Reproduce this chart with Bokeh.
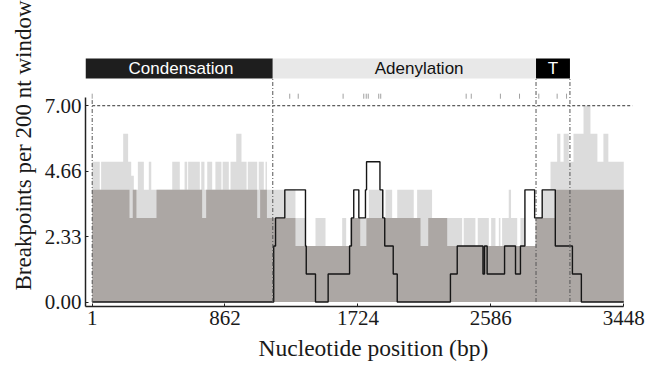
import math
from bokeh.plotting import figure
from bokeh.models import FixedTicker, Title, Range1d
from bokeh.core.properties import value
from bokeh.embed import file_html
from bokeh.resources import INLINE

# ---------------- data ----------------
SEQ_START = 1
SEQ_END = 3448
MAX_BP = 7

x_ticks = [1, 862, 1724, 2586, 3448]
y_ticks = [0, 7 / 3, 14 / 3, 7]
y_tick_labels = ["0.00", "2.33", "4.66", "7.00"]

# light grey envelope (step starts, breakpoints per window)
light_pos = [1, 50, 59, 202, 234, 254, 271, 297, 336, 368, 384, 520, 569, 600, 617, 623,
             699, 708, 729, 747, 779, 800, 839, 847, 887, 898, 935, 969, 1002, 1010,
             1071, 1081, 1114, 1125, 1134, 1319, 1384, 1449, 1514, 1622,
             1648, 1676, 1697, 1740, 1779, 1795, 1892, 1903, 1946, 1979, 2086, 2108,
             2205, 2400, 2410, 2486, 2501, 2573, 2588, 2616, 2638, 2648, 2659, 2702,
             2717, 2757, 2778, 2806, 2876, 2919, 2973, 3016, 3037, 3058, 3091, 3122,
             3187, 3232, 3277, 3316, 3348]
light_val = [5, 4, 5, 6, 5, 4.5, 4, 5, 4, 5, 4, 5, 4, 5, 4, 5,
             4, 5, 4, 5, 4, 5, 4, 5, 4, 5, 6, 5, 4, 5,
             4, 5, 4, 5, 4, 3, 2, 3, 2, 3,
             2, 3, 2, 3, 3, 4, 3, 4, 3, 4, 3, 4,
             3, 2, 3, 2, 3, 2, 3, 2, 3, 2, 3, 4,
             3, 2, 3, 2, 3, 4, 5, 6, 5, 6, 5, 6,
             7, 6, 5, 6, 5]

# dark grey series
dark_pos = [1, 243, 264, 288, 418, 714, 740, 1071, 1090, 1134, 1319, 1676, 1740, 1779,
            2130, 2180, 2303, 2876, 3001]
dark_val = [4, 3, 4, 3, 4, 3, 4, 3, 4, 3, 2, 3, 2, 3,
            2, 3, 2, 3, 4]

# black outline series
line_pos = [1, 1178, 1190, 1250, 1384, 1389, 1449, 1531, 1670, 1682, 1697, 1730, 1773,
            1780, 1867, 1885, 1898, 1953, 1979, 2324, 2368, 2535, 2545, 2562, 2675,
            2746, 2778, 2807, 2870, 2919, 3004, 3115, 3173]
line_val = [0, 2, 3, 4, 2, 1, 0, 1, 2, 3, 4, 3, 4,
            5, 4, 3, 2, 1, 0, 1, 2, 1, 2, 1, 2,
            1, 2, 4, 3, 4, 2, 1, 0]

# breakpoint positions (rug)
rug_pos = [1, 1282, 1337, 1628, 1762, 1778, 1791, 1859, 1872, 2426, 2459, 2648, 2772,
           2897, 3016, 3077]

# domains
domain_names = ["Condensation", "Adenylation", "T"]
domain_end = [1172, 2879, 3099]
domain_label_pos = [577, 2121, 2989]

# ---------------- figure ----------------
X0, X1 = -42.4, 3504.6
Y0, Y1 = -0.16, 8.72
BAR_LO, BAR_HI = 7.97, 8.68

p = figure(width=658, height=367, output_backend="svg", toolbar_location=None,
           x_range=Range1d(X0, X1), y_range=Range1d(Y0, Y1),
           min_border_left=85, min_border_right=26, min_border_top=57,
           min_border_bottom=61)
p.outline_line_color = None
p.grid.visible = False
p.background_fill_color = "white"

def steps(pos, val):
    return list(pos) + [SEQ_END], list(val) + [val[-1]]

lx, ly = steps(light_pos, light_val)
p.varea_step(x=lx, y1=[0] * len(lx), y2=ly, step_mode="after",
             fill_color="#dcdcdc")
dx, dy = steps(dark_pos, dark_val)
p.varea_step(x=dx, y1=[0] * len(dx), y2=dy, step_mode="after",
             fill_color="#aca7a4")
bx, by = steps(line_pos, line_val)
p.step(x=bx, y=by, mode="after", line_color="#151515", line_width=1.4)

# threshold line at max
p.segment(x0=[SEQ_START], x1=[X1], y0=[MAX_BP], y1=[MAX_BP],
          line_color="#333333", line_width=1, line_dash="3 2")

# domain boundary lines
p.segment(x0=[SEQ_START], x1=[SEQ_START], y0=[0], y1=[7.2],
          line_color="#555555", line_width=1, line_dash="4 2 1 2")
p.segment(x0=domain_end, x1=domain_end, y0=[0] * 3, y1=[BAR_LO] * 3,
          line_color="#555555", line_width=1, line_dash="4 2 1 2")

# rug ticks
p.segment(x0=rug_pos, x1=rug_pos, y0=[7.25] * len(rug_pos), y1=[7.43] * len(rug_pos),
          line_color="#a0a0a0", line_width=1)

# domain bar
starts = [X0] + domain_end[:-1]
p.quad(left=starts, right=domain_end, bottom=[BAR_LO] * 3, top=[BAR_HI] * 3,
       fill_color=["#1e1e1e", "#e8e8e8", "#000000"], line_color=None)
p.text(x=domain_label_pos, y=[(BAR_LO + BAR_HI) / 2] * 3, text=domain_names,
       text_color=["white", "#111111", "white"], text_font=value("Liberation Sans"),
       text_font_size="17px", text_align="center", text_baseline="middle")

# axes
for ax in (p.xaxis[0], p.yaxis[0]):
    ax.axis_line_color = "#222222"
    ax.axis_line_width = 1.5
    ax.major_tick_line_color = "#222222"
    ax.major_tick_in = 3
    ax.major_tick_out = 0
    ax.minor_tick_line_color = None
    ax.major_label_text_font = "Liberation Serif"
    ax.major_label_text_font_size = "21px"
    ax.major_label_text_color = "#1a1a1a"
    ax.major_label_standoff = 4

p.xaxis.ticker = FixedTicker(ticks=x_ticks)
p.xaxis.bounds = (X0, SEQ_END)
p.yaxis.ticker = FixedTicker(ticks=y_ticks)
p.yaxis.major_label_overrides = {t: s for t, s in zip(y_ticks, y_tick_labels)}
p.yaxis.bounds = (Y0, 7.29)

p.add_layout(Title(text="Breakpoints per 200 nt window", align="left", offset=16,
                   standoff=12,
                   text_font="Liberation Serif", text_font_size="23px",
                   text_font_style="normal", text_color="#1a1a1a"), "left")
p.add_layout(Title(text="Nucleotide position (bp)", align="left", offset=173,
                   text_font="Liberation Serif", text_font_size="23.5px",
                   text_font_style="normal", text_color="#1a1a1a"), "below")

open("out.html", "w").write(file_html(p, INLINE))
